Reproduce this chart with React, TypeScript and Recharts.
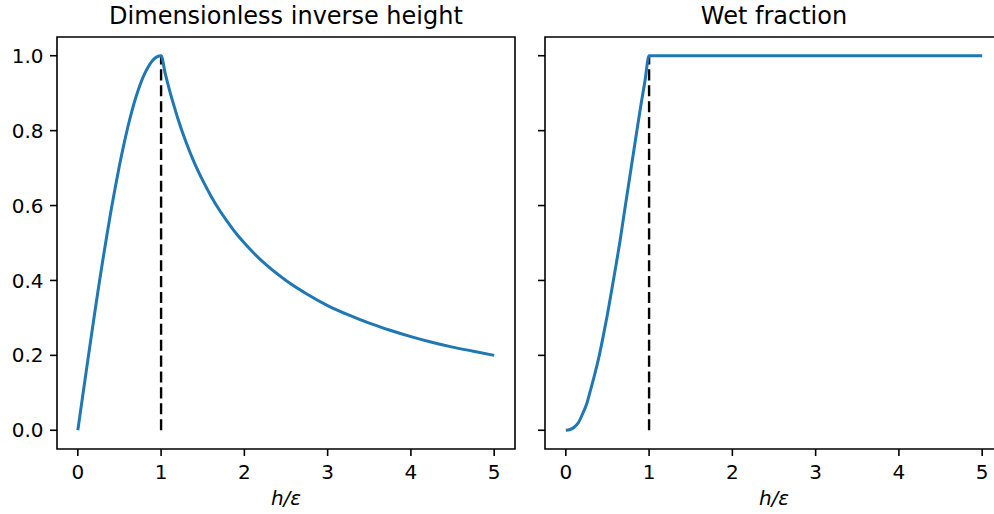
import React from "react";
import {
  LineChart,
  Line,
  XAxis,
  YAxis,
  ReferenceLine,
  ReferenceArea,
} from "recharts";

// Dimensionless inverse height (left panel)
const inverseX = [
  0, 0.05, 0.1, 0.15, 0.2, 0.25, 0.3, 0.35, 0.4, 0.45, 0.5, 0.55, 0.6, 0.65,
  0.7, 0.75, 0.8, 0.85, 0.9, 0.95, 1.0, 1.05, 1.1, 1.15, 1.2, 1.3, 1.4, 1.5,
  1.6, 1.7, 1.8, 1.9, 2.0, 2.25, 2.5, 2.75, 3.0, 3.25, 3.5, 3.75, 4.0, 4.25,
  4.5, 4.75, 5.0,
];
const inverseY = [
  0, 0.078, 0.156, 0.233, 0.309, 0.383, 0.454, 0.522, 0.588, 0.649, 0.707,
  0.76, 0.809, 0.853, 0.891, 0.924, 0.951, 0.972, 0.988, 0.997, 1.0, 0.952,
  0.909, 0.87, 0.833, 0.769, 0.714, 0.667, 0.625, 0.588, 0.556, 0.526, 0.5,
  0.444, 0.4, 0.364, 0.333, 0.308, 0.286, 0.267, 0.25, 0.235, 0.222, 0.211,
  0.2,
];

// Wet fraction (right panel)
const wetX = [
  0, 0.05, 0.1, 0.15, 0.2, 0.25, 0.3, 0.35, 0.4, 0.45, 0.5, 0.55, 0.6, 0.65,
  0.7, 0.75, 0.8, 0.85, 0.9, 0.95, 1.0, 5.0,
];
const wetY = [
  0, 0.002, 0.008, 0.02, 0.043, 0.07, 0.11, 0.152, 0.198, 0.252, 0.31, 0.373,
  0.437, 0.504, 0.578, 0.65, 0.723, 0.795, 0.866, 0.932, 1.0, 1.0,
];

const xTicks = [0, 1, 2, 3, 4, 5];
const yTicks = [0, 0.2, 0.4, 0.6, 0.8, 1.0];
const titles = ["Dimensionless inverse height", "Wet fraction"];
const xLabel = "h/ε";
const threshold = 1;

const inverseData = inverseX.map((x, i) => ({ x, y: inverseY[i] }));
const wetData = wetX.map((x, i) => ({ x, y: wetY[i] }));

const FONT = "DejaVu Sans";
const BLUE = "#1f77b4";
const X_DOMAIN: [number, number] = [-0.25, 5.25];
const Y_DOMAIN: [number, number] = [-0.05, 1.05];
const tickStyle = { fill: "#000", fontSize: 20, fontFamily: FONT };

function Panel({
  data,
  width,
  marginRight,
  yAxisWidth,
  showYLabels,
}: {
  data: { x: number; y: number }[];
  width: number;
  marginRight: number;
  yAxisWidth: number;
  showYLabels: boolean;
}) {
  return (
    <LineChart
      width={width}
      height={514}
      data={data}
      margin={{ top: 37, right: marginRight, bottom: 0, left: 0 }}
    >
      <XAxis
        type="number"
        dataKey="x"
        domain={X_DOMAIN}
        ticks={xTicks}
        allowDataOverflow
        height={65}
        axisLine={false}
        tickLine={{ stroke: "#000", strokeWidth: 1.6 }}
        tickSize={7}
        tickMargin={9}
        tick={tickStyle}
        label={{
          value: xLabel,
          position: "insideBottom",
          offset: 9.5,
          style: {
            fill: "#000",
            fontSize: 20,
            fontFamily: FONT,
            fontStyle: "italic",
          },
        }}
      />
      <YAxis
        type="number"
        dataKey="y"
        domain={Y_DOMAIN}
        ticks={yTicks}
        allowDataOverflow
        width={yAxisWidth}
        axisLine={false}
        tickLine={{ stroke: "#000", strokeWidth: 1.6 }}
        tickSize={7}
        tickMargin={6.5}
        tick={tickStyle}
        tickFormatter={(v: number) => (showYLabels ? v.toFixed(1) : "")}
      />
      <ReferenceArea
        x1={X_DOMAIN[0]}
        x2={X_DOMAIN[1]}
        y1={Y_DOMAIN[0]}
        y2={Y_DOMAIN[1]}
        fill="none"
        fillOpacity={0}
        stroke="#000"
        strokeWidth={1.6}
        ifOverflow="visible"
      />
      <ReferenceLine
        segment={[
          { x: threshold, y: 0 },
          { x: threshold, y: 1 },
        ]}
        stroke="#000"
        strokeWidth={2.4}
        strokeDasharray="11.1 4.8"
      />
      <Line
        type="monotone"
        dataKey="y"
        stroke={BLUE}
        strokeWidth={3}
        dot={false}
        activeDot={false}
        isAnimationActive={false}
      />
    </LineChart>
  );
}

export default function App() {
  return (
    <div
      style={{
        position: "absolute",
        left: 0,
        top: 0,
        width: 994,
        height: 514,
        overflow: "hidden",
        background: "#fff",
      }}
    >
      <div style={{ position: "absolute", left: 0, top: 0 }}>
        <Panel
          data={inverseData}
          width={520}
          marginRight={5}
          yAxisWidth={57}
          showYLabels
        />
      </div>
      <div style={{ position: "absolute", left: 520, top: 0 }}>
        <Panel
          data={wetData}
          width={490}
          marginRight={7}
          yAxisWidth={25}
          showYLabels={false}
        />
      </div>
      <svg
        width={994}
        height={40}
        style={{ position: "absolute", left: 0, top: 0, pointerEvents: "none" }}
      >
        <text
          x={286}
          y={24}
          textAnchor="middle"
          fontFamily={FONT}
          fontSize={24}
          fill="#000"
        >
          {titles[0]}
        </text>
        <text
          x={774}
          y={24}
          textAnchor="middle"
          fontFamily={FONT}
          fontSize={24}
          fill="#000"
        >
          {titles[1]}
        </text>
      </svg>
    </div>
  );
}
